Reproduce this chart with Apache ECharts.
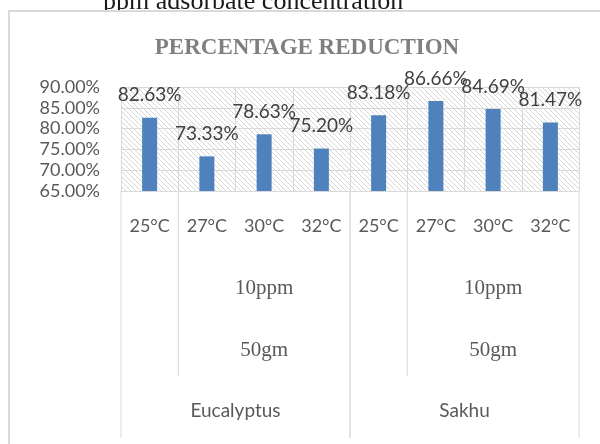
<!DOCTYPE html>
<html>
<head>
<meta charset="utf-8">
<script src="https://cdn.jsdelivr.net/npm/echarts@6/dist/echarts.min.js"></script>
<style>
html, body { margin: 0; padding: 0; background: #fff; }
#chart { width: 600px; height: 444px; }
</style>
</head>
<body>
<div id="chart"></div>
<script>
// 온도별 카테고리 / 값
var temps = ['25°C', '27°C', '30°C', '32°C', '25°C', '27°C', '30°C', '32°C'];
var reduction = [0.8263, 0.7333, 0.7863, 0.7520, 0.8318, 0.8666, 0.8469, 0.8147];
var yTicks = [0.65, 0.70, 0.75, 0.80, 0.85, 0.90];

// 다단 라벨 그룹 (카테고리 인덱스 범위)
var ppmGroups = [{ name: '10ppm', from: 1, to: 3 }, { name: '10ppm', from: 5, to: 7 }];
var massGroups = [{ name: '50gm', from: 1, to: 3 }, { name: '50gm', from: 5, to: 7 }];
var woodGroups = [{ name: 'Eucalyptus', from: 0, to: 3 }, { name: 'Sakhu', from: 4, to: 7 }];

var titleText = 'PERCENTAGE REDUCTION';
var captionText = 'ppm adsorbate concentration';

function hatch() { // 플롯 영역 빗금 패턴
	var c = document.createElement('canvas');
	c.width = 5; c.height = 5;
	var g = c.getContext('2d');
	g.fillStyle = '#ffffff';
	g.fillRect(0, 0, 5, 5);
	g.strokeStyle = '#d6d6d6';
	g.lineWidth = 1;
	g.beginPath();
	g.moveTo(-1, -1); g.lineTo(6, 6);
	g.moveTo(-1, 4); g.lineTo(1, 6);
	g.moveTo(4, -1); g.lineTo(6, 1);
	g.stroke();
	return c;
}

var myChart = echarts.init(document.getElementById('chart'));

var option = {
	animation: false,
	grid: {
		left: 121, top: 87, width: 458, height: 104,
		show: true,
		borderWidth: 0,
		backgroundColor: { image: hatch(), repeat: 'repeat' }
	},
	xAxis: {
		type: 'category',
		data: temps,
		axisLine: { lineStyle: { color: '#d9d9d9' } },
		axisTick: { show: false },
		splitLine: { show: true, interval: 0, lineStyle: { color: '#d9d9d9' } },
		axisLabel: {
			interval: 0, margin: 26,
			fontFamily: 'Lato', fontSize: 18, color: '#595959'
		}
	},
	yAxis: {
		type: 'value',
		min: yTicks[0],
		max: yTicks[yTicks.length - 1],
		interval: 0.05,
		axisLine: { show: false },
		axisTick: { show: false },
		splitLine: { lineStyle: { color: '#d9d9d9' } },
		axisLabel: {
			margin: 21,
			fontFamily: 'Lato', fontSize: 18, color: '#595959',
			formatter: function (v) { return (v * 100).toFixed(2) + '%'; }
		}
	},
	series: [{
		type: 'bar',
		data: reduction,
		barWidth: 15,
		itemStyle: { color: '#4f81bd' },
		label: {
			show: true,
			position: 'top',
			distance: 13,
			fontFamily: 'Lato', fontSize: 19, color: '#404040',
			formatter: function (p) { return (p.value * 100).toFixed(2) + '%'; }
		}
	}]
};

myChart.setOption(option);

// 하단 다단 카테고리 라벨 & 구분선
var cx = temps.map(function (t, i) { return myChart.convertToPixel({ xAxisIndex: 0 }, i); });
var band = cx[1] - cx[0];
var axisY = myChart.convertToPixel({ yAxisIndex: 0 }, yTicks[0]);

function leftEdge(i) { return cx[i] - band / 2; }
function rightEdge(i) { return cx[i] + band / 2; }

var elements = [];

elements.push({ // 상단에 잘린 캡션 (아래 테두리가 덮음)
	type: 'text', z: -30, x: 103, y: 15,
	style: { text: captionText, font: '26px "Liberation Serif"', fill: '#1a1a1a', textAlign: 'left', textVerticalAlign: 'bottom' }
});
elements.push({ // 차트 외곽 테두리
	type: 'rect', z: -20,
	shape: { x: 9, y: 11, width: 620, height: 460 },
	style: { fill: '#ffffff', stroke: '#d9d9d9', lineWidth: 2 }
});
elements.push({
	type: 'text', z: 10, x: 307, y: 48,
	style: { text: titleText, font: 'bold 23px "Liberation Serif"', fill: '#7f7f7f', textAlign: 'center', textVerticalAlign: 'middle' }
});

function vline(x, y2) {
	elements.push({
		type: 'line', z: 5,
		shape: { x1: x, y1: axisY, x2: x, y2: y2 },
		style: { stroke: '#d9d9d9', lineWidth: 1 }
	});
}

ppmGroups.forEach(function (g) {
	vline(leftEdge(g.from), 376);
	elements.push({
		type: 'text', z: 10, x: (cx[g.from] + cx[g.to]) / 2, y: 288,
		style: { text: g.name, font: '21px "Liberation Serif"', fill: '#595959', textAlign: 'center', textVerticalAlign: 'middle' }
	});
});
massGroups.forEach(function (g) {
	elements.push({
		type: 'text', z: 10, x: (cx[g.from] + cx[g.to]) / 2, y: 350,
		style: { text: g.name, font: '21px "Liberation Serif"', fill: '#595959', textAlign: 'center', textVerticalAlign: 'middle' }
	});
});
woodGroups.forEach(function (g) {
	vline(leftEdge(g.from), 438);
	vline(rightEdge(g.to), 438);
	elements.push({
		type: 'text', z: 10, x: (cx[g.from] + cx[g.to]) / 2, y: 411,
		style: { text: g.name, font: '19px Lato', fill: '#595959', textAlign: 'center', textVerticalAlign: 'middle' }
	});
});

myChart.setOption({ graphic: { elements: elements } });
</script>
</body>
</html>
